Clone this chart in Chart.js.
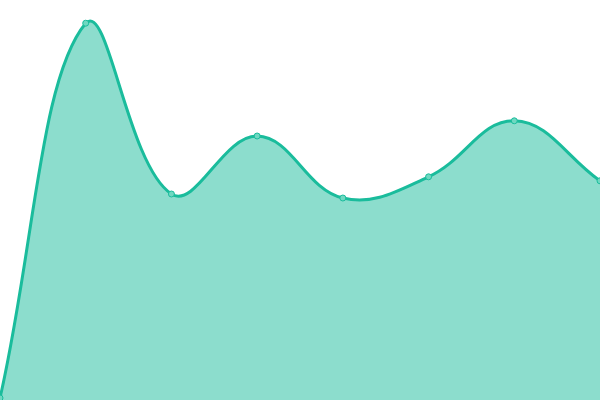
<!DOCTYPE html>
<html>
<head>
<meta charset="utf-8">
<script src="https://cdn.jsdelivr.net/npm/chart.js@4"></script>
<style>
html, body { margin: 0; padding: 0; background: #fff; }
#wrap { width: 600px; height: 400px; }
</style>
</head>
<body>
<div id="wrap"><canvas id="chart"></canvas></div>
<script>
// values (scale 0-100)
var labels = ['1', '2', '3', '4', '5', '6', '7', '8'];
var values = [0.5, 94.2, 51.5, 66, 50.5, 55.8, 69.8, 54.8];
var yMin = 0;
var yMax = 100;

new Chart(document.getElementById('chart'), {
	type: 'line',
	data: {
		labels: labels,
		datasets: [{
			data: values,
			borderColor: '#1abc9c',
			backgroundColor: 'rgba(26, 188, 156, 0.5)',
			borderWidth: 3,
			tension: 0.4,
			fill: true,
			pointRadius: 3,
			pointBackgroundColor: '#6fd8c1',
			pointBorderColor: '#1abc9c',
			pointBorderWidth: 1
		}]
	},
	options: {
		responsive: true,
		maintainAspectRatio: false,
		animation: false,
		layout: { padding: 0, autoPadding: false },
		plugins: {
			legend: { display: false },
			tooltip: { enabled: false }
		},
		scales: {
			x: { display: false, offset: false },
			y: { display: false, min: yMin, max: yMax }
		}
	}
});
</script>
</body>
</html>
